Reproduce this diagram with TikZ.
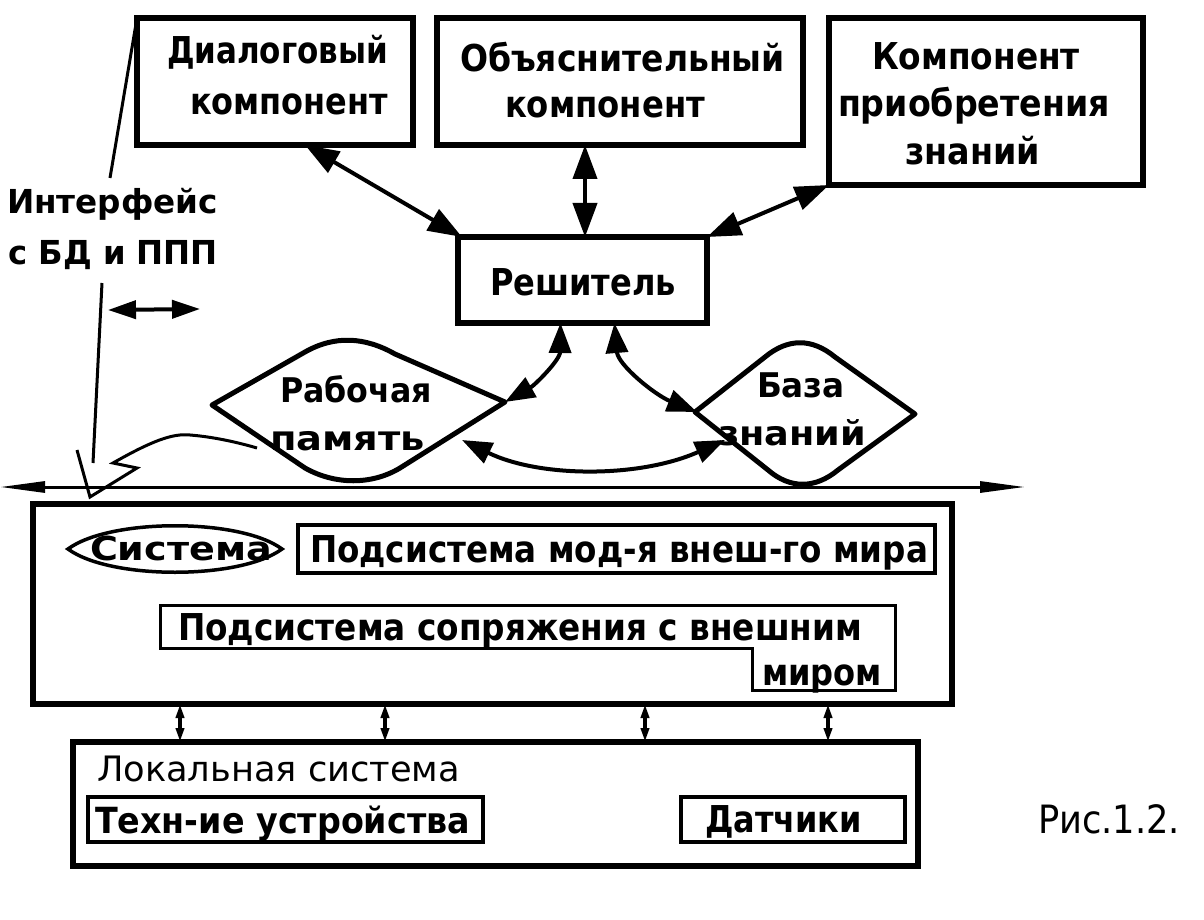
\documentclass[tikz,border=0pt]{standalone}
\usepackage{fontspec}
\setmainfont{DejaVu Sans}
\usepackage{graphicx}
\usetikzlibrary{arrows.meta}
\newcommand{\fw}[3]{\resizebox{#1pt}{\height}{\fontsize{#2}{#2}\selectfont #3}}
\begin{document}
\begin{tikzpicture}[x=1pt,y=-1pt,
  box/.style={draw, line width=6pt, inner sep=0pt, outer sep=0pt},
  ibox/.style={draw, line width=4pt, inner sep=0pt, outer sep=0pt},
  txt/.style={inner sep=0pt, outer sep=0pt, anchor=base west},
  dbl/.style={line width=4pt, {Triangle[length=34pt,width=24pt]}-{Triangle[length=34pt,width=24pt]}},
  dblc/.style={line width=4pt, {Triangle[length=30pt,width=22pt]}-{Triangle[length=30pt,width=22pt]}},
  tiny/.style={line width=3.5pt, {Triangle[length=14pt,width=8pt]}-{Triangle[length=14pt,width=8pt]}},
  lens/.style={draw, line width=5pt, line join=round},
  thin/.style={line width=3pt}]
\fill[white] (0,0) rectangle (1204,920);
\useasboundingbox (0,0) rectangle (1204,920);

% top boxes
\node[box, minimum width=276pt, minimum height=127pt] (dlg) at (275,81.5) {};
\node[box, minimum width=366pt, minimum height=127pt] (obj) at (620,81.5) {};
\node[box, minimum width=314pt, minimum height=167pt] (kmp) at (986,101.5) {};
\node[box, minimum width=249pt, minimum height=86pt] (res) at (582.5,280) {};

\node[txt] (t1) at (167,64) {\fw{221}{37}{\bfseries Диалоговый}};
\node[txt] (t2) at (190,115) {\fw{198}{37}{\bfseries компонент}};
\node[txt] (t3) at (460,72) {\fw{325}{37}{\bfseries Объяснительный}};
\node[txt] (t4) at (505,118) {\fw{200}{37}{\bfseries компонент}};
\node[txt] (t5) at (872,70) {\fw{208}{37}{\bfseries Компонент}};
\node[txt] (t6) at (838,117) {\fw{272}{37}{\bfseries приобретения}};
\node[txt] (t7) at (905,165) {\fw{135}{37}{\bfseries знаний}};
\node[txt] (t8) at (490,295) {\fw{186}{37}{\bfseries Решитель}};

% interface
\node[txt] (t9) at (7,214) {\fw{211}{33}{\bfseries Интерфейс}};
\node[txt] (t10) at (8,264) {\fw{210}{33}{\bfseries с БД и ППП}};

% lenses
\draw[lens] (212,405) -- (305,352) .. controls (335,335) and (365,337) .. (395,354) -- (505,402) -- (400,468) .. controls (372,485) and (335,485) .. (305,468) -- cycle;
\draw[lens] (695,412) -- (765,357) .. controls (788,338) and (812,338) .. (835,357) -- (915,414) -- (838,470) .. controls (815,489) and (790,489) .. (768,470) -- cycle;
\coordinate (wmR) at (505,402);
\coordinate (wmB) at (462,440);
\coordinate (kbL) at (697,412);
\coordinate (kbB) at (725,440);
\node[txt] (t11) at (280,402) {\fw{152}{34}{\bfseries Рабочая}};
\node[txt] (t12) at (270,450) {\fw{155}{34}{\bfseries память}};
\node[txt] (t13) at (757,397) {\fw{88}{34}{\bfseries База}};
\node[txt] (t14) at (718,445) {\fw{148}{34}{\bfseries знаний}};

% connectors top
\draw[dbl] ([xshift=30pt]dlg.south) -- ([xshift=4pt]res.north west);
\draw[dbl] ([xshift=-35pt]obj.south) -- ([xshift=2.5pt]res.north);
\draw[dbl] (kmp.south west) -- (res.north east);
\draw[dblc] ([xshift=-22pt]res.south) .. controls (560,360) and (535,385) .. (wmR);
\draw[dblc] ([xshift=32pt]res.south) .. controls (618,365) and (655,395) .. (kbL);
\draw[dblc] (wmB) .. controls (540,478) and (640,478) .. (kbB);

% horizontal bus
\coordinate (hl) at (0,487);
\coordinate (hr) at (1025,487);
\draw[line width=3pt, {Triangle[length=45pt,width=11pt]}-{Triangle[length=45pt,width=11pt]}] (hl) -- (hr);

% interface lines
\coordinate (ia) at (110,178);
\coordinate (ib) at (102,283);
\coordinate (ic) at (93,463);
\coordinate (al) at (108,310);
\coordinate (ar) at (200,309);
\draw[thin] (dlg.north west) -- (ia);
\draw[thin] (ib) -- (ic);
\draw[thin, line join=miter] (77,450) -- (90,497) -- (137,468) -- (113,463) .. controls (150,442) and (172,433) .. (190,435) .. controls (215,437) and (240,443) .. (257,448);
\draw[line width=4pt, {Triangle[length=28pt,width=18pt]}-{Triangle[length=28pt,width=18pt]}] (al) -- (ar);

% system box
\node[box, minimum width=919pt, minimum height=200pt] (sys) at (492.5,604) {};
\draw[line width=3.5pt] (68,549) .. controls (110,518) and (240,518) .. (282,549) .. controls (240,580) and (110,580) .. (68,549) -- cycle;
\node[txt] (t15) at (90,560) {\fw{182}{33}{\bfseries Система}};
\node[ibox, minimum width=637pt, minimum height=48pt] (mod) at (616.5,549) {};
\node[txt] (t16) at (310,562) {\fw{618}{37}{\bfseries Подсистема мод-я внеш-го мира}};
\draw[thin] (160,605) -- (895,605) -- (895,690) -- (752,690) -- (752,648) -- (160,648) -- cycle;
\node[txt] (t17) at (178,640) {\fw{684}{37}{\bfseries Подсистема сопряжения с внешним}};
\node[txt] (t18) at (762,685) {\fw{120}{37}{\bfseries миром}};

% local system
\node[box, minimum width=845pt, minimum height=124pt] (loc) at (495.5,804) {};
\node[txt] (t19) at (97,781) {\fw{363}{35}{Локальная система}};
\node[ibox, minimum width=395pt, minimum height=45pt] (tech) at (285.5,819.5) {};
\node[txt] (t20) at (95,833) {\fw{375}{36}{\bfseries Техн-ие устройства}};
\node[ibox, minimum width=224pt, minimum height=45pt] (dat) at (793,819.5) {};
\node[txt] (t21) at (705,832) {\fw{157}{37}{\bfseries Датчики}};
\node[txt] (t22) at (1038,833) {\fw{142}{39}{Рис.1.2.}};

% small arrows
\draw[tiny] ([xshift=-312.5pt]sys.south) -- ([xshift=-315.5pt]loc.north);
\draw[tiny] ([xshift=-107.5pt]sys.south) -- ([xshift=-110.5pt]loc.north);
\draw[tiny] ([xshift=152.5pt]sys.south) -- ([xshift=149.5pt]loc.north);
\draw[tiny] ([xshift=335.5pt]sys.south) -- ([xshift=332.5pt]loc.north);
\end{tikzpicture}
\end{document}
